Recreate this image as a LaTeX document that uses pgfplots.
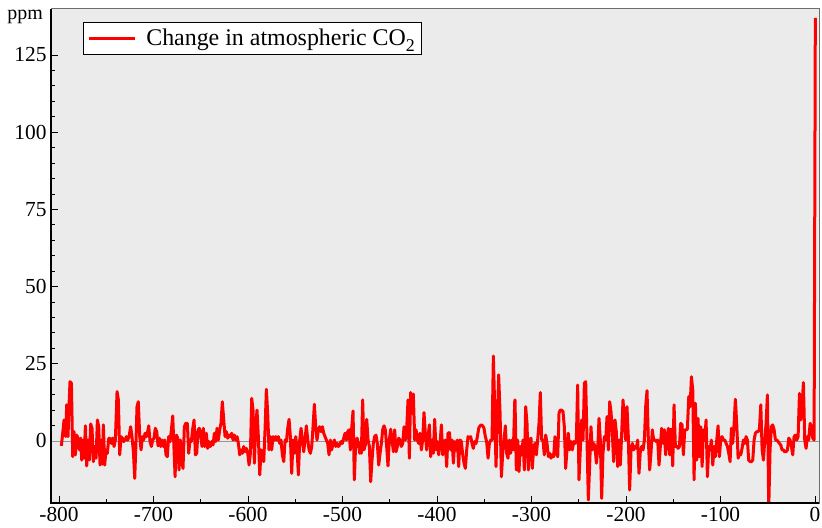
\documentclass[border=0pt]{standalone}
\usepackage{fontspec}
\setmainfont{Liberation Serif}
\usepackage{pgfplots}
\usepackage{pgfplotstable}
\pgfplotsset{compat=1.18}
\definecolor{bg}{RGB}{235,235,235}
\definecolor{frame}{RGB}{110,110,110}
\definecolor{zero}{RGB}{150,150,150}

\pgfplotstableread{
x y
-797.5 -1.6
-794.7 6.8
-792.9 1.4
-791.9 11.7
-790.5 1.4
-789.4 11.7
-788.4 19.2
-786.9 18.7
-785.5 -5.1
-784.1 3.0
-782.7 -4.5
-781.3 1.9
-779.9 0.9
-778.5 -2.9
-777.1 0.9
-776.0 -6.2
-774.6 0.3
-773.5 -5.6
-772.1 4.9
-770.7 -8.1
-769.3 0.3
-767.9 -6.2
-766.5 5.5
-765.1 4.1
-763.7 -6.7
-762.3 -1.8
-760.8 -5.6
-759.4 6.8
-758.0 4.6
-756.6 -7.8
-755.2 0.3
-754.1 -7.5
-753.1 5.2
-751.7 -7.8
-750.3 -2.9
-748.9 -4.0
-747.4 0.8
-746.0 0.9
-744.6 -0.8
-743.2 0.9
-741.8 -1.8
-740.4 0.3
-738.6 16.0
-737.2 13.3
-735.8 -4.5
-734.4 1.4
-733.0 0.9
-731.6 -0.2
-730.2 0.3
-728.7 1.4
-727.3 0.3
-725.9 1.4
-724.2 4.6
-722.8 1.4
-721.3 -3.5
-719.9 -12.1
-718.5 0.3
-717.5 11.1
-716.1 12.7
-714.6 1.4
-713.2 -2.9
-711.8 1.4
-710.4 0.3
-709.0 2.5
-707.6 1.4
-706.2 3.0
-705.1 4.9
-703.7 -0.2
-702.3 -1.8
-700.9 0.3
-699.5 0.9
-698.1 4.1
-696.6 3.0
-695.2 -1.6
-693.8 0.9
-692.4 -1.8
-691.0 0.3
-689.6 -1.8
-688.2 0.3
-686.8 -4.5
-685.4 -5.1
-684.0 1.4
-682.5 -0.2
-681.1 3.6
-679.7 8.1
-678.3 -2.9
-677.2 -11.6
-675.8 1.9
-674.4 0.9
-673.0 -9.4
-671.6 0.3
-670.2 -6.7
-668.8 -8.9
-667.4 4.6
-666.0 5.7
-664.2 5.7
-662.8 -4.0
-661.4 0.3
-660.0 -0.2
-658.6 3.8
-657.1 6.8
-655.7 -4.5
-654.3 -4.0
-652.9 3.6
-651.5 4.1
-650.1 1.9
-648.7 -1.8
-647.3 4.1
-645.9 -1.8
-644.8 -0.8
-644.1 2.5
-642.7 -2.4
-641.3 -0.2
-639.9 -1.8
-638.4 -0.2
-637.0 -1.3
-635.6 2.5
-634.2 -0.2
-632.8 4.1
-631.4 0.3
-630.0 3.6
-628.6 5.7
-627.2 12.7
-625.7 6.8
-624.3 1.4
-622.9 3.0
-621.5 0.9
-620.1 1.9
-618.7 1.4
-617.3 2.5
-615.9 0.3
-614.5 1.9
-613.0 0.3
-611.6 1.4
-610.2 -0.8
-608.8 -4.5
-607.4 -2.9
-606.0 -4.0
-604.6 -1.8
-603.2 -3.5
-601.8 -2.4
-600.3 -4.0
-598.9 -7.8
-597.5 -4.0
-596.1 13.8
-594.7 10.0
-593.3 -7.2
-591.9 4.6
-590.5 10.0
-589.1 1.4
-587.6 -11.0
-586.2 -2.9
-584.8 -5.1
-583.4 -6.7
-582.0 3.6
-580.6 16.7
-579.2 9.0
-577.8 -2.9
-576.4 1.4
-575.0 -2.9
-573.5 1.4
-572.1 0.3
-570.7 1.4
-569.3 0.3
-567.9 1.4
-566.5 -0.8
-565.1 0.3
-563.7 -4.5
-562.2 -6.7
-560.8 0.3
-559.4 -0.2
-558.0 4.1
-556.6 7.0
-555.2 1.4
-553.8 -10.5
-552.4 0.3
-550.9 -4.0
-549.5 1.4
-548.1 -2.9
-546.7 -11.0
-545.3 0.3
-543.9 4.1
-542.5 0.3
-541.1 -3.5
-539.7 0.3
-538.3 4.9
-536.8 0.3
-535.4 -2.9
-534.0 -4.0
-532.6 -1.8
-531.2 4.6
-529.8 11.9
-528.4 4.6
-527.0 0.3
-525.6 3.6
-524.2 4.6
-522.7 3.0
-521.3 4.6
-519.9 2.5
-518.5 1.4
-517.1 0.3
-515.7 -0.8
-514.3 -4.5
-512.9 0.3
-511.5 -2.9
-510.0 -0.8
-508.6 0.3
-507.2 -1.8
-505.8 -0.8
-504.4 -1.8
-503.0 -1.3
-501.6 -0.2
-500.2 -0.8
-498.8 0.9
-497.3 2.5
-495.9 0.3
-494.5 3.0
-493.1 3.6
-491.7 -2.9
-490.3 4.1
-488.9 9.7
-487.5 -12.6
-486.1 -0.8
-484.6 0.9
-483.2 -0.8
-481.8 -4.0
-481.5 -0.8
-480.1 -4.0
-478.7 13.3
-477.3 -2.9
-475.9 -1.3
-474.4 7.0
-473.0 0.3
-471.6 -1.8
-470.2 -13.2
-468.8 -6.2
-467.4 -0.8
-466.0 1.4
-464.6 1.9
-463.2 -0.8
-461.7 -7.8
-460.3 -4.0
-458.9 -0.8
-457.5 3.6
-456.1 4.9
-454.7 3.6
-453.3 -1.8
-451.9 -8.1
-450.5 0.3
-449.0 3.8
-447.6 0.3
-446.2 -3.5
-444.8 3.6
-443.4 -3.5
-442.0 -1.8
-440.6 0.9
-439.2 0.3
-437.8 -1.8
-436.3 -0.8
-434.9 4.6
-433.5 0.3
-432.1 4.1
-430.7 13.3
-429.3 -5.6
-427.9 15.7
-426.5 9.0
-425.1 15.2
-423.6 0.3
-422.2 3.6
-420.8 0.3
-419.4 -0.8
-418.0 2.5
-416.6 -2.9
-415.2 0.3
-413.8 9.2
-412.4 2.5
-411.0 -2.9
-409.5 1.4
-408.1 5.2
-406.7 -5.1
-405.3 0.3
-403.9 -4.0
-402.5 7.0
-401.1 -2.9
-399.7 -0.2
-398.2 -4.5
-396.8 -0.8
-395.4 5.2
-394.0 -4.5
-392.6 -2.9
-391.2 0.3
-389.8 -8.3
-388.4 2.5
-386.9 2.7
-385.5 -2.9
-384.1 0.3
-382.7 -7.2
-381.3 -0.2
-379.9 -2.9
-378.5 0.3
-377.1 -8.3
-375.7 0.3
-374.3 -0.2
-372.8 -4.5
-371.4 -7.2
-370.0 -8.9
-368.6 -2.9
-367.2 1.4
-365.8 0.9
-364.4 1.4
-363.0 -0.8
-361.6 -2.4
-360.2 -0.2
-358.7 -0.8
-357.3 1.4
-355.9 4.1
-354.5 4.9
-353.1 5.2
-351.7 4.9
-350.3 4.1
-348.9 1.4
-347.5 -0.2
-346.0 -5.6
-344.6 -0.8
-343.2 0.3
-341.8 0.3
-340.4 27.5
-339.0 11.1
-337.6 -8.3
-336.2 5.7
-334.8 21.4
-333.3 9.0
-331.9 -11.6
-330.5 -4.0
-329.1 0.3
-327.7 4.9
-326.3 -4.0
-324.9 -5.6
-323.5 0.3
-322.1 -4.0
-320.6 0.3
-319.2 -2.9
-317.8 12.7
-317.5 13.3
-316.1 -9.4
-314.7 0.3
-313.3 -9.9
-311.9 -1.8
-310.4 -4.5
-309.0 0.3
-307.6 -9.4
-306.2 11.1
-304.8 5.7
-303.4 -9.4
-302.0 0.3
-300.6 0.9
-299.2 -8.9
-297.7 -1.8
-296.3 -0.8
-294.9 -4.5
-293.5 0.3
-292.1 5.7
-290.7 15.7
-289.3 0.3
-287.9 0.3
-286.5 -4.5
-285.0 1.9
-283.6 -0.8
-282.2 -5.1
-280.8 -4.0
-279.4 -5.6
-278.0 -4.5
-276.6 -5.1
-275.2 1.4
-273.8 -4.0
-272.3 -5.1
-270.9 9.2
-269.5 10.0
-268.1 10.0
-266.7 9.5
-265.3 4.6
-263.9 -8.9
-262.5 -2.9
-261.1 2.5
-259.6 -2.9
-258.2 -0.2
-256.8 -2.9
-255.4 -0.2
-254.0 -0.8
-252.6 0.3
-251.2 18.1
-249.8 -12.6
-248.4 -2.9
-247.0 6.8
-245.5 0.3
-244.1 18.7
-242.7 19.2
-241.3 0.3
-239.9 -19.1
-238.5 -7.8
-237.1 4.6
-235.7 -2.9
-234.2 -0.8
-232.8 -1.8
-231.4 -7.2
-230.0 -2.9
-228.6 7.3
-227.2 0.3
-225.8 -18.6
-224.4 -4.0
-222.9 1.4
-221.5 0.3
-220.1 7.9
-218.7 -2.9
-217.3 12.7
-215.9 9.5
-214.5 2.5
-213.1 -6.7
-211.7 6.8
-210.3 3.0
-208.8 -8.3
-207.4 0.3
-206.0 -7.8
-204.6 2.5
-203.2 13.3
-201.8 6.8
-200.4 0.3
-199.0 11.1
-197.6 1.4
-196.2 -15.9
-194.7 -2.9
-193.3 -0.8
-191.9 -2.9
-190.5 -1.8
-189.1 -2.4
-187.7 0.3
-186.3 -10.5
-184.9 -3.5
-183.5 -1.8
-182.0 -2.9
-180.6 0.3
-179.2 11.1
-177.8 16.3
-176.4 0.3
-175.0 -9.4
-173.6 -4.0
-172.2 3.6
-170.8 0.3
-169.3 0.3
-167.9 -0.2
-166.5 0.3
-165.1 -7.8
-163.7 -1.8
-162.3 4.1
-160.9 -0.8
-159.5 3.6
-158.1 -4.5
-156.6 1.4
-155.2 4.1
-153.8 -4.5
-153.4 3.6
-152.0 3.8
-150.6 -8.1
-149.2 11.7
-147.8 -1.8
-146.3 -1.6
-144.9 -2.4
-143.5 -1.8
-142.1 5.7
-140.7 5.2
-139.3 -4.5
-137.9 3.6
-136.5 3.6
-135.1 3.8
-133.6 14.4
-132.2 11.1
-130.8 20.8
-129.4 16.5
-128.0 -12.6
-126.6 12.2
-125.2 -6.2
-123.8 7.3
-122.4 -5.1
-120.9 4.6
-119.5 -8.3
-118.1 3.6
-116.7 0.3
-115.3 6.8
-113.9 -11.6
-112.5 -1.8
-111.1 -2.9
-109.7 0.3
-108.2 -7.8
-106.8 -1.8
-105.4 -5.1
-104.0 0.3
-102.6 4.9
-101.2 -5.1
-99.8 0.3
-98.4 1.4
-97.0 0.3
-95.5 0.3
-94.1 -0.8
-92.7 -1.8
-91.3 -4.0
-89.9 -6.7
-88.5 4.1
-87.1 -0.8
-85.7 5.2
-84.3 13.5
-82.9 5.7
-81.4 -5.6
-80.0 -4.0
-78.6 -4.5
-77.2 -2.4
-75.8 0.3
-74.4 -0.8
-73.0 1.4
-71.6 0.3
-70.2 -6.2
-68.7 -6.7
-67.3 -6.7
-65.9 -6.2
-64.5 0.3
-63.1 2.5
-61.7 3.0
-60.3 3.0
-58.9 3.6
-57.4 11.7
-56.0 -2.9
-54.6 -6.2
-53.2 0.3
-51.8 5.7
-50.4 14.9
-49.0 -22.0
-47.6 -2.9
-46.2 4.6
-44.8 5.2
-43.3 3.6
-41.9 0.3
-40.5 0.3
-39.1 -0.2
-37.7 -0.8
-36.3 -1.3
-34.9 -2.9
-33.5 -2.9
-32.1 -3.5
-30.6 -3.5
-29.2 -2.9
-27.8 0.9
-26.4 0.3
-25.0 -1.8
-23.6 -4.5
-22.2 1.4
-20.8 1.9
-19.4 0.3
-17.9 1.4
-16.5 15.4
-15.1 6.8
-13.7 11.7
-12.3 18.9
-10.9 0.3
-9.5 -2.4
-8.1 1.4
-6.7 0.3
-5.2 5.7
-3.8 4.6
-2.4 0.9
-1.0 0.3
0.3 137.0
}\cotwo

\begin{document}
\begin{tikzpicture}
\begin{axis}[
  scale only axis, width=768bp, height=494bp,
  xmin=-808.5, xmax=4.2, ymin=-20.1, ymax=139.9,
  axis background/.style={fill=bg},
  axis line style={draw=frame, line width=1pt},
  xtick={-800,-700,-600,-500,-400,-300,-200,-100,0},
  xticklabels={-800,-700,-600,-500,-400,-300,-200,-100,0},
  ytick={0,25,50,75,100,125},
  yticklabels={0,25,50,75,100,125},
  minor x tick num=1, minor y tick num=4,
  tick align=inside, xtick pos=left, ytick pos=left,
  major tick length=7bp, minor tick length=4bp,
  every tick/.style={black, line width=0.8pt},
  ticklabel style={font=\fontsize{21.5}{24}\selectfont},
  xticklabel style={yshift=-1bp},
  yticklabel style={xshift=-1bp},
  legend style={at={(axis description cs:0.0417,0.9737)}, anchor=north west,
    draw=black, line width=0.6pt, fill=white,
    font=\fontsize{24}{28}\selectfont, inner xsep=4bp, inner ysep=5bp},
  legend image code/.code={\draw[#1, line width=3bp] (0bp,0bp) -- (46bp,0bp);},
  legend cell align=left,
]
\coordinate (sw) at (rel axis cs:0,0);
\coordinate (ne) at (rel axis cs:1,1);
\coordinate (nw) at (rel axis cs:0,1);
\coordinate (se) at (rel axis cs:1,0);
\draw[zero, line width=0.8pt] (axis cs:-808.5,0) -- (axis cs:4.2,0);
\addplot[red, line width=3bp, line join=round, mark=none] table[x=x,y=y] {\cotwo};
\addlegendentry{\hspace{8bp}Change in atmospheric CO\raisebox{-0.55ex}{\fontsize{18}{18}\selectfont 2}}
\end{axis}
\draw[black, line width=1.6bp] (nw) -- (sw) -- (se);
\node[anchor=base east, inner sep=0pt, font=\fontsize{20}{24}\selectfont] at ([shift={(-8bp,-11bp)}]nw) {ppm};
\pgfresetboundingbox
\path[use as bounding box] ([shift={(-51bp,-25bp)}]sw) rectangle ([shift={(3bp,9bp)}]ne);
\end{tikzpicture}
\end{document}
